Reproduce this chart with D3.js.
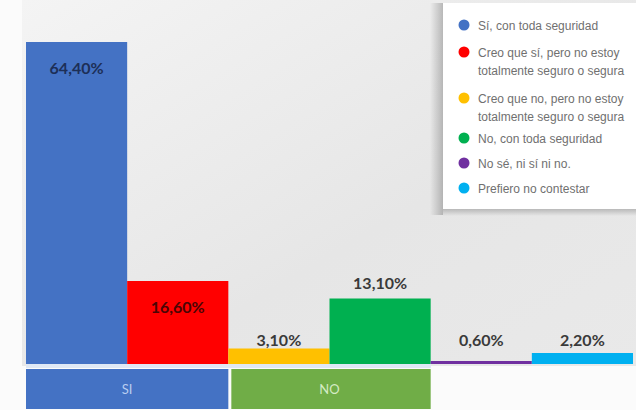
<!DOCTYPE html>
<html>
<head>
<meta charset="utf-8">
<script src="https://cdn.jsdelivr.net/npm/d3@7"></script>
<style>
  html, body { margin: 0; padding: 0; background: #ffffff; }
  svg { display: block; }
</style>
</head>
<body>
<svg id="chart" width="636" height="410"></svg>
<script>
// ---- data ----
const categories = [
  "Sí, con toda seguridad",
  "Creo que sí, pero no estoy totalmente seguro o segura",
  "Creo que no, pero no estoy totalmente seguro o segura",
  "No, con toda seguridad",
  "No sé, ni sí ni no.",
  "Prefiero no contestar"
];
const values = [64.4, 16.6, 3.1, 13.1, 0.6, 2.2];
const legendLines = [
  ["Sí, con toda seguridad"],
  ["Creo que sí, pero no estoy", "totalmente seguro o segura"],
  ["Creo que no, pero no estoy", "totalmente seguro o segura"],
  ["No, con toda seguridad"],
  ["No sé, ni sí ni no."],
  ["Prefiero no contestar"]
];
const groups = ["SI", "NO"];
const groupMembers = [[0, 1], [2, 3]];
const colors = ["#4472C4", "#FF0000", "#FFC000", "#00B050", "#7030A0", "#00B0F0"];
const groupColors = ["#4472C4", "#70AD47"];
const insideLabel = [true, true, false, false, false, false];

// ---- setup ----
const W = 636, H = 410;
const svg = d3.select("#chart");
const defs = svg.append("defs");

const bg = defs.append("linearGradient").attr("id", "bg").attr("x1", 0).attr("y1", 0).attr("x2", 1).attr("y2", 1);
bg.append("stop").attr("offset", "0%").attr("stop-color", "#f4f4f4");
bg.append("stop").attr("offset", "60%").attr("stop-color", "#e6e6e6");
bg.append("stop").attr("offset", "100%").attr("stop-color", "#e9e9e9");

const sh = defs.append("linearGradient").attr("id", "shadowL").attr("x1", 0).attr("x2", 1);
sh.append("stop").attr("offset", "0%").attr("stop-color", "#000").attr("stop-opacity", 0);
sh.append("stop").attr("offset", "100%").attr("stop-color", "#000").attr("stop-opacity", 0.22);
const shb = defs.append("linearGradient").attr("id", "shadowB").attr("x1", 0).attr("x2", 0).attr("y1", 0).attr("y2", 1);
shb.append("stop").attr("offset", "0%").attr("stop-color", "#000").attr("stop-opacity", 0.2);
shb.append("stop").attr("offset", "100%").attr("stop-color", "#000").attr("stop-opacity", 0);

const locale = d3.formatLocale({decimal: ",", thousands: ".", grouping: [3], currency: ["", "€"]});
const fmt = v => locale.format(".2f")(v) + "%";

const margin = {left: 26, right: 3, top: 0, bottom: 46};
const x = d3.scaleBand().domain(d3.range(values.length)).range([margin.left, W - margin.right]).padding(0);
const y = d3.scaleLinear().domain([0, 64.4]).range([364, 42]);

// background
svg.append("rect").attr("x", 0).attr("y", 0).attr("width", W).attr("height", H).attr("fill", "#fbfbfb");
svg.append("rect").attr("x", margin.left - 4).attr("y", 0).attr("width", W - margin.left + 4).attr("height", y(0) + 2).attr("fill", "url(#bg)");

// bars
svg.append("g").selectAll("rect").data(values).join("rect")
  .attr("x", (d, i) => x(i))
  .attr("y", d => y(d))
  .attr("width", x.bandwidth())
  .attr("height", d => y(0) - y(d))
  .attr("fill", (d, i) => colors[i]);

// separator
svg.append("rect").attr("x", margin.left).attr("y", y(0)).attr("width", 405).attr("height", 4).attr("fill", "#dfe8f5");

// value labels
svg.append("g").selectAll("text").data(values).join("text")
  .attr("x", (d, i) => x(i) + x.bandwidth() / 2)
  .attr("y", (d, i) => insideLabel[i] ? y(d) + 32 : (d < 5 ? 346 : y(d) - 10))
  .attr("text-anchor", "middle")
  .attr("font-family", "Lato, 'Liberation Sans', sans-serif")
  .attr("font-weight", "bold")
  .attr("font-size", 16)
  .attr("fill", (d, i) => i === 0 ? "#1d2f57" : (i === 1 ? "#4a0505" : "#3a3a3a"))
  .text(d => fmt(d));

// group boxes
const gg = svg.append("g").selectAll("g").data(groups).join("g");
gg.append("rect")
  .attr("x", (d, i) => x(groupMembers[i][0]) + (i > 0 ? 3 : 0))
  .attr("y", 369)
  .attr("width", (d, i) => x(groupMembers[i][1]) + x.bandwidth() - x(groupMembers[i][0]) - (i > 0 ? 3 : 0))
  .attr("height", 40)
  .attr("fill", (d, i) => groupColors[i]);
gg.append("text")
  .attr("x", (d, i) => (x(groupMembers[i][0]) + x(groupMembers[i][1]) + x.bandwidth()) / 2)
  .attr("y", 394)
  .attr("text-anchor", "middle")
  .attr("font-family", "Lato, 'Liberation Sans', sans-serif")
  .attr("font-size", 13)
  .attr("fill", (d, i) => i === 0 ? "#b9cdf0" : "#d4ebc4")
  .text(d => d);

// legend
const lg = svg.append("g");
lg.append("rect").attr("x", 430).attr("y", 3).attr("width", 13).attr("height", 212).attr("fill", "url(#shadowL)");
lg.append("rect").attr("x", 443).attr("y", 209).attr("width", 193).attr("height", 7).attr("fill", "url(#shadowB)");
lg.append("rect").attr("x", 443).attr("y", 3).attr("width", 200).attr("height", 206).attr("fill", "#ffffff");
const rowY = [25, 52, 98, 138, 163, 188];
const items = lg.selectAll("g.item").data(categories).join("g").attr("class", "item")
  .attr("transform", (d, i) => `translate(464,${rowY[i]})`);
items.append("circle").attr("r", 5.5).attr("fill", (d, i) => colors[i]);
items.append("text")
  .attr("x", 14)
  .attr("font-family", "'Liberation Sans', Arial, sans-serif")
  .attr("font-size", 12)
  .attr("fill", "#707070")
  .selectAll("tspan").data((d, i) => legendLines[i]).join("tspan")
  .attr("x", 14)
  .attr("y", (d, j) => 4.5 + j * 18)
  .text(d => d);
</script>
</body>
</html>
